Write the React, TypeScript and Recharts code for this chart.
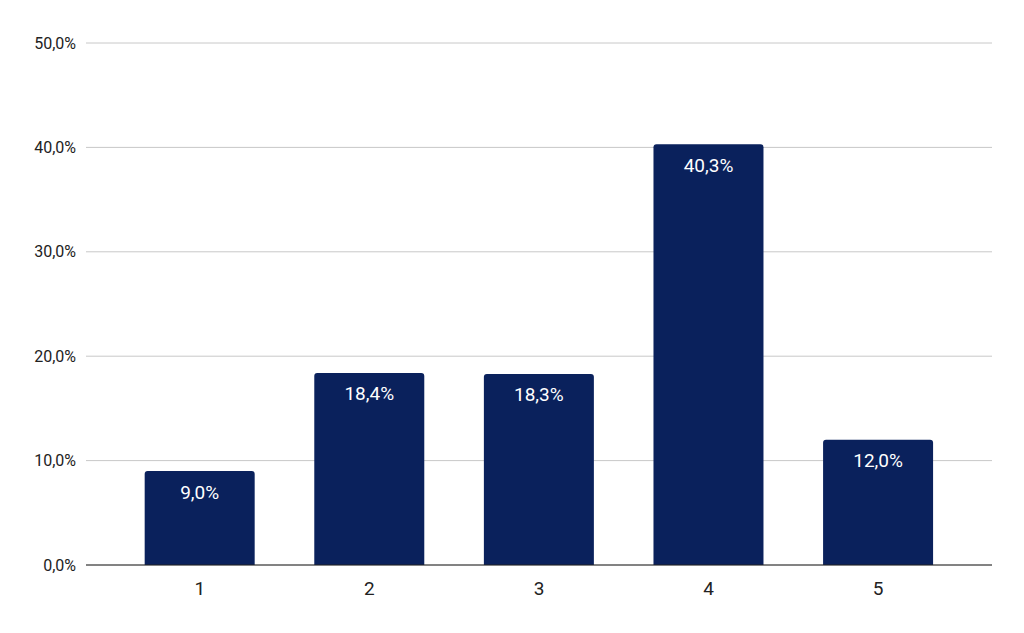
import React from "react";
import { BarChart, Bar, XAxis, YAxis, CartesianGrid, LabelList } from "recharts";

const categories = ["1", "2", "3", "4", "5"];
const values = [9.0, 18.4, 18.3, 40.3, 12.0];
const yTicks = [0, 10, 20, 30, 40, 50];

const data = categories.map((c, i) => ({ name: c, value: values[i] }));
const fmt = (v: number) => v.toFixed(1).replace(".", ",") + "%";

export default function App() {
  return (
    <div style={{ position: "absolute", left: 0, top: 0, background: "#fff" }}>
      <BarChart
        width={1024}
        height={633}
        data={data}
        margin={{ top: 43, right: 32, bottom: 38, left: 0 }}
        barCategoryGap="17.5%"
      >
        <CartesianGrid vertical={false} stroke="#c8c8c8" />
        <XAxis
          dataKey="name"
          tickLine={false}
          axisLine={{ stroke: "#222", strokeWidth: 1 }}
          tick={{ fill: "#222", fontSize: 19, fontFamily: "Roboto" }}
          tickMargin={11}
          padding={{ left: 29, right: 29 }}
        />
        <YAxis
          width={86}
          domain={[0, 50]}
          ticks={yTicks}
          tickFormatter={fmt}
          tickLine={false}
          axisLine={false}
          tick={{ fill: "#222", fontSize: 16, fontFamily: "Roboto" }}
          tickMargin={4}
        />
        <Bar dataKey="value" fill="#0a215c" radius={[3, 3, 0, 0]} isAnimationActive={false}>
          <LabelList
            dataKey="value"
            position="insideTop"
            offset={14}
            formatter={(v: any) => fmt(Number(v))}
            style={{ fill: "#fff", fontSize: 19, fontFamily: "Roboto" }}
          />
        </Bar>
      </BarChart>
    </div>
  );
}
